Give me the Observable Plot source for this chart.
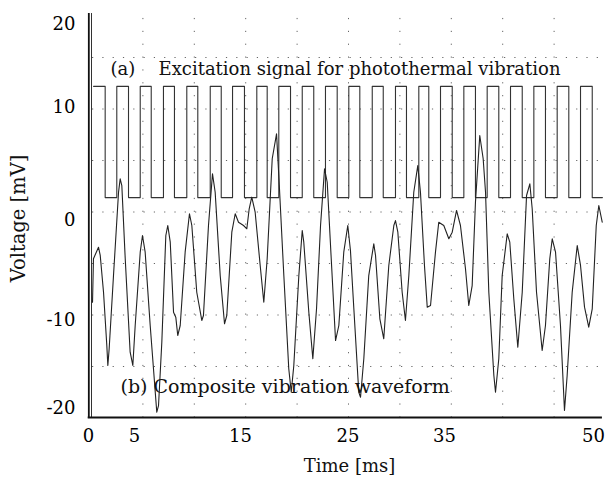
<!DOCTYPE html>
<html>
<head>
<meta charset="utf-8">
<script src="https://cdn.jsdelivr.net/npm/d3@7"></script>
<script src="https://cdn.jsdelivr.net/npm/@observablehq/plot@0.6"></script>
<style>
  html, body { margin: 0; padding: 0; background: #fff; }
  #chart svg { display: block; }
</style>
</head>
<body>
<div id="chart"></div>
<script>
// ---- data ----
// (b) composite vibration waveform: time [ms], voltage [mV]
const timeMs = [0.10,0.19,0.68,0.85,1.17,1.49,1.59,1.72,2.14,2.63,2.79,2.95,3.28,3.76,4.02,4.25,4.74,4.96,5.22,5.71,
  6.35,6.52,6.84,7.23,7.42,7.66,7.98,8.20,8.39,8.63,9.11,9.53,9.76,10.24,10.73,10.89,11.38,11.77,12.03,12.52,
  12.94,13.16,13.65,13.98,14.30,14.79,15.11,15.34,15.59,15.92,16.41,16.76,17.09,17.58,18.00,18.22,18.71,19.19,19.43,19.68,
  20.17,20.50,20.65,21.14,21.53,21.89,22.28,22.67,22.93,23.32,23.74,24.06,24.54,24.93,25.19,25.52,26.00,26.17,26.49,26.97,
  27.46,27.63,28.05,28.43,28.92,29.41,29.57,29.80,30.22,30.54,30.87,31.35,31.74,32.00,32.39,32.66,32.98,33.46,33.78,34.27,
  34.76,35.09,35.51,35.89,36.38,36.70,37.03,37.35,37.77,38.10,38.33,38.65,39.14,39.30,39.62,39.95,40.44,40.69,41.08,41.47,
  41.90,42.32,42.64,42.87,43.29,43.84,44.16,44.58,44.82,45.14,45.62,46.01,46.27,46.76,47.25,47.57,47.96,48.37,48.71,49.10,
  49.35,49.68];
const voltage = [-8.76,-4.54,-3.42,-4.22,-7.79,-12.96,-14.90,-13.25,-6.17,1.92,3.22,2.57,-4.51,-13.61,-14.90,-11.02,-3.90,-2.28,-3.90,-11.02,
  -19.44,-18.79,-12.64,-2.28,-1.31,-2.93,-9.73,-10.21,-11.99,-11.02,-3.90,-0.17,-1.31,-7.79,-10.53,-10.05,-1.31,3.71,1.92,-6.17,
  -10.85,-10.05,-1.96,-0.17,-0.99,-1.31,-1.63,0.31,1.44,-0.02,-5.19,-8.76,-4.54,5.17,7.59,3.54,-6.17,-15.22,-17.50,-14.90,
  -6.17,-1.80,-2.93,-9.73,-14.25,-9.40,-1.31,4.19,2.89,-4.54,-12.48,-11.02,-3.90,-1.31,-3.74,-9.40,-17.50,-17.98,-14.25,-6.17,
  -3.09,-4.22,-10.37,-12.31,-5.19,-1.31,-0.83,-1.96,-7.79,-10.53,-6.17,1.92,4.51,1.92,-5.19,-9.24,-9.08,-3.90,-0.99,-1.31,
  -2.60,-1.96,0.15,-1.31,-5.51,-9.08,-7.14,0.95,7.43,5.17,1.92,-7.79,-15.87,-17.50,-14.25,-6.17,-2.12,-2.93,-8.43,-13.13,
  -7.79,1.60,2.74,0.31,-7.79,-13.45,-11.02,-4.54,-2.60,-3.90,-11.02,-19.27,-15.87,-7.79,-3.25,-5.19,-9.24,-11.18,-9.40,-1.31,
  0.63,-0.99];

// (a) excitation square wave: edge times [ms] and levels [mV]
const squareStartMs = 0.2;
const squareEndMs = 49.7;
const fallMs = [1.33,3.60,5.81,8.07,10.34,12.62,14.88,17.09,19.36,21.62,23.90,26.10,28.38,30.64,32.81,35.09,37.35,39.62,41.90,44.16,46.43,48.71];
const riseMs = [2.46,4.74,7.00,9.27,11.55,13.72,16.08,18.22,20.50,22.76,25.03,27.31,29.57,31.84,33.95,36.22,38.49,40.76,43.03,45.30,47.57];
const squareHigh = 12.2;
const squareLow = 1.4;

// grid and tick labels
const xGridMs = [5,10,15,20,25,30,35,40,45];
const yGridMv = [15,10,5,0,-5,-10,-15];
const xTickLabels = ["0","5","15","25","35","50"];
const xTickAt = [-0.29,4.18,14.49,24.95,34.34,48.83];
const yTickLabels = ["20","10","0","-10","-20"];
const yTickAt = [18.26,10.17,-0.83,-10.53,-19.03];

// ---- build tables ----
const wave = timeMs.map((t,i) => ({t, v: voltage[i]}));
const edges = [];
fallMs.forEach(t => { edges.push({t, a: squareHigh, b: squareLow}); });
riseMs.forEach(t => { edges.push({t, a: squareLow, b: squareHigh}); });
edges.sort((p,q) => p.t - q.t);
const square = [{t: squareStartMs, v: squareHigh}];
edges.forEach(e => { square.push({t: e.t, v: e.a}); square.push({t: e.t, v: e.b}); });
square.push({t: squareEndMs, v: squareLow});

const xTicks = xTickLabels.map((s,i) => ({s, t: xTickAt[i]}));
const yTicks = yTickLabels.map((s,i) => ({s, v: yTickAt[i]}));

const font = "DejaVu Serif";

const chart = Plot.plot({
  width: 606,
  height: 477,
  marginLeft: 0, marginRight: 0, marginTop: 0, marginBottom: 0,
  style: {background: "#fff", fontFamily: font},
  x: {domain: [0, 50], range: [91, 605], axis: null},
  y: {domain: [-20, 20], range: [417.5, 5.5], axis: null},
  marks: [
    // dotted grid
    Plot.ruleY(yGridMv, {y: d => d, x1: 0.1, x2: 49.4, stroke: "#666", strokeWidth: 1, strokeDasharray: "1.2,9.1"}),
    Plot.ruleX(xGridMs, {x: d => d, y1: -20, y2: 19.0, stroke: "#666", strokeWidth: 1, strokeDasharray: "1.2,11.65"}),
    // square wave
    Plot.line(square, {x: "t", y: "v", stroke: "#333", strokeWidth: 1.1, curve: "linear"}),
    // composite waveform
    Plot.line(wave, {x: "t", y: "v", stroke: "#222", strokeWidth: 1.1, curve: "linear"}),
    // axis frame: double left line and bottom line
    Plot.ruleX([-0.26], {x: d => d, y1: -20.05, y2: 19.27, stroke: "#111", strokeWidth: 1.8}),
    Plot.ruleX([0.0], {x: d => d, y1: -20.05, y2: 19.27, stroke: "#333", strokeWidth: 1}),
    Plot.ruleY([-19.95], {y: d => d, x1: -0.32, x2: 49.7, stroke: "#111", strokeWidth: 2}),
    // tick labels
    Plot.text(yTicks, {x: () => -1.56, y: "v", text: "s", textAnchor: "end", fontSize: 18, fill: "#000"}),
    Plot.text(xTicks, {x: "t", y: () => -21.8, text: "s", textAnchor: "middle", fontSize: 18, fill: "#000"}),
    // axis titles
    Plot.text(["Time [ms]"], {x: () => 25.1, y: () => -24.7, text: d => d, fontSize: 18, fill: "#111"}),
    Plot.text(["Voltage [mV]"], {x: () => -7.1, y: () => -0.63, text: d => d, rotate: -90, fontSize: 19.5, fill: "#111"}),
    // annotations
    Plot.text(["(a)"], {x: () => 1.85, y: () => 13.88, text: d => d, textAnchor: "start", fontSize: 18, fill: "#111"}),
    Plot.text(["Excitation signal for photothermal vibration"], {x: () => 6.52, y: () => 13.88, text: d => d, textAnchor: "start", fontSize: 18, fill: "#111"}),
    Plot.text(["(b) Composite vibration waveform"], {x: () => 2.82, y: () => -16.94, text: d => d, textAnchor: "start", fontSize: 19, fill: "#111"})
  ]
});
document.getElementById("chart").appendChild(chart);
</script>
</body>
</html>
